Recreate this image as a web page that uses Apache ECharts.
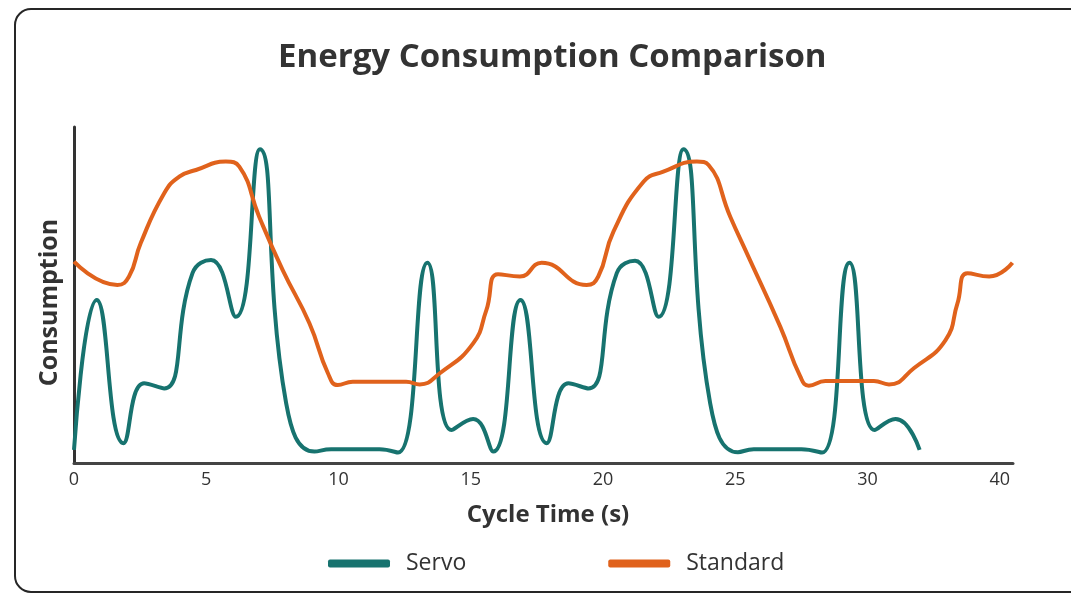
<!DOCTYPE html>
<html><head><meta charset="utf-8">
<script src="https://cdn.jsdelivr.net/npm/echarts@6/dist/echarts.min.js"></script>
<style>html,body{margin:0;padding:0;background:#fff}#c{width:1071px;height:596px}</style>
</head><body><div id="c"></div>
<script>
const tickLabels = ["0","5","10","15","20","25","30","40"];
const servoX = [0,0.86,1.87,2.65,3.41,4.48,5.18,6.12,7.03,8.02,9.09,9.72,11.55,12.25,13.36,14.27,15.09,15.85,16.88,17.87,18.69,19.45,20.52,21.21,22.1,23.04,24.05,25.1,25.7,27.5,28.28,29.32,30.27,31.06,31.97];
const servoY = [3.9,48.5,5.9,23.7,22.2,56.5,60.4,43.5,93.4,17.8,3.4,4.1,4.1,3.1,59.6,9.8,13.1,3.4,48.5,5.9,23.7,22.2,56.5,60.2,43.5,93.4,17.8,3.2,4.1,4.1,3.1,59.6,9.8,13.1,3.9];
const standardX = [0,1.64,2.08,2.52,3.41,3.98,4.61,5.74,6.25,7.0,7.89,8.9,9.6,9.97,10.54,12.56,13.07,13.83,15.09,15.59,16.03,16.86,17.68,19.38,19.82,20.39,21.53,22.28,23.55,23.99,24.81,25.44,26.7,27.46,27.78,28.41,30.24,30.81,31.75,32.95,33.4,33.78,34.6,35.48];
const standardY = [59.9,53,55.5,65.4,80.3,85.2,87.2,89.7,88.2,73.3,57.4,41.6,26.7,23.2,24.2,24.2,23.4,26.7,35.6,45.5,56.2,55.5,59.6,53,55.5,68.8,83.7,86.7,89.7,88.7,73.3,62.4,40.6,25.7,23.0,24.4,24.4,23.4,28.2,36.6,47.5,56.5,55.5,59.6];

const zip = (xs, ys) => xs.map((x, i) => [x, ys[i]]);
const FONT = '"Open Sans", "Noto Sans", sans-serif';
const chart = echarts.init(document.getElementById('c'));
chart.setOption({
  animation: false,
  backgroundColor: '#fff',
  graphic: [{
    type: 'rect', shape: { x: 15, y: 9, width: 1070, height: 583, r: 16 },
    style: { fill: 'none', stroke: '#262626', lineWidth: 2 }, z: 0
  }],
  title: {
    text: 'Energy Consumption Comparison', left: 273, top: 36,
    textStyle: { fontFamily: FONT, fontSize: 33, fontWeight: 'bold', color: '#333' }
  },
  legend: {
    left: 323, top: 547, itemWidth: 62, itemHeight: 8, itemGap: 142,
    icon: 'roundRect',
    textStyle: { fontFamily: FONT, fontSize: 23, color: '#333', padding: [0, 0, 0, 11] },
    data: ['Servo', 'Standard']
  },
  grid: { left: 74, right: 58, top: 127, bottom: 133 },
  xAxis: {
    type: 'value', min: 0, max: 35.5, interval: 5,
    name: 'Cycle Time (s)', nameLocation: 'middle', nameGap: 40,
    nameTextStyle: { fontFamily: FONT, fontSize: 24, fontWeight: 'bold', color: '#333', padding: [0, 0, 0, 9] },
    axisLine: { show: true, lineStyle: { color: '#444', width: 3 } },
    axisTick: { show: false },
    splitLine: { show: false },
    axisLabel: {
      fontFamily: FONT, fontSize: 18, color: '#333', margin: 8,
      showMaxLabel: false,
      formatter: v => tickLabels[Math.round(v / 5)] ?? ''
    }
  },
  yAxis: {
    type: 'value', min: 0, max: 100,
    name: 'Consumption', nameLocation: 'middle', nameGap: 12,
    nameTextStyle: { fontFamily: FONT, fontSize: 25, fontWeight: 'bold', color: '#333', padding: [0, 15, 0, 0] },
    axisLine: { show: true, lineStyle: { color: '#333', width: 3 } },
    axisTick: { show: false }, axisLabel: { show: false }, splitLine: { show: false }
  },
  series: [
    { name: 'Servo', type: 'line', smooth: 0.5, showSymbol: false, data: zip(servoX, servoY),
      lineStyle: { width: 4, color: '#17736f' }, itemStyle: { color: '#17736f' } },
    { name: 'Standard', type: 'line', smooth: 0.5, showSymbol: false, data: zip(standardX, standardY),
      lineStyle: { width: 4, color: '#e0621c' }, itemStyle: { color: '#e0621c' } }
  ]
});
</script></body></html>
